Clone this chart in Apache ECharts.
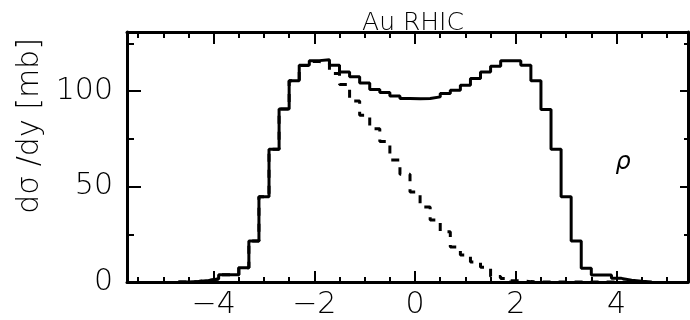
<!DOCTYPE html>
<html><head><meta charset="utf-8">
<script src="https://cdn.jsdelivr.net/npm/echarts@6/dist/echarts.min.js"></script>
<style>html,body{margin:0;padding:0;background:#fff}#c{width:690px;height:320px}</style>
</head><body><div id="c"></div>
<script>
// rapidity bin centres (bin width 0.2)
const binCenters = [-4.6,-4.4,-4.2,-4.0,-3.8,-3.6,-3.4,-3.2,-3.0,-2.8,-2.6,-2.4,-2.2,-2.0,-1.8,-1.6,-1.4,-1.2,-1.0,-0.8,-0.6,-0.4,-0.2,0.0,0.2,0.4,0.6,0.8,1.0,1.2,1.4,1.6,1.8,2.0,2.2,2.4,2.6,2.8,3.0,3.2,3.4,3.6,3.8,4.0,4.2,4.4,4.6];
// total dsigma/dy (solid histogram)
const solidValues = [0,0.3,0.8,1.6,3.8,3.8,7.5,21.5,44.7,69.5,90.6,105.4,113.6,116.0,116.5,113.6,110.1,107.5,104.3,100.9,99.3,97.4,96.2,96.0,96.2,97.0,98.8,100.5,103.1,106.6,110.1,113.1,115.9,115.9,113.6,105.4,90.4,69.5,44.7,21.5,7.2,3.7,3.7,1.9,0.9,0.4,0];
// one-nucleus contribution (dashed histogram)
const dottedValues = [0,0.3,0.8,1.6,3.8,3.8,7.5,21.5,44.7,69.5,90.6,105.4,113.4,115.5,115.0,109.3,103.5,94.8,87.4,80.3,73.6,63.9,56.5,47.1,39.3,32.5,26.3,18.3,14.1,10.5,7.7,2.9,1.8,0.7,0.2,0,0,0,0,0,0,0,0,0,0,0,0];
const xTickValues = [-4,-2,0,2,4];
const xTickLabels = ['\u22124','\u22122','0','2','4'];
const xMinorTicks = [-5.5,-5,-4.5,-3.5,-3,-2.5,-1.5,-1,-0.5,0.5,1,1.5,2.5,3,3.5,4.5,5];
const yTickValues = [0,50,100];
const yTickLabels = ['0','50','100'];
const yMinorTicks = [25,75,125];
const titleText = 'Au RHIC';
const yAxisTitle = 'd\u03c3 /dy [mb]';
const particleLabel = '\u03c1';

const X_MIN = -5.72, X_MAX = 5.42, Y_MIN = 0, Y_MAX = 131;
const BIN_HALF = 0.1;
function toSteps(centers, vals) {
  const pts = centers.map((c, i) => [c - BIN_HALF, vals[i]]);
  pts.push([centers[centers.length - 1] + BIN_HALF, vals[vals.length - 1]]);
  return pts;
}
const FONT = 'DejaVu Sans';
const labelStyle = {color: '#000', fontFamily: FONT, fontSize: 30, fontWeight: 200};

function xAx(pos, ticks, len, showLine, withLabels) {
  return {
    type: 'value', position: pos, min: X_MIN, max: X_MAX,
    axisLine: {show: showLine, onZero: false, lineStyle: {color: '#000', width: 3}},
    axisTick: {show: true, inside: true, length: len, customValues: ticks, lineStyle: {color: '#000', width: 2}},
    axisLabel: withLabels ? Object.assign({show: true, margin: 8, customValues: xTickValues,
      formatter: v => xTickLabels[xTickValues.indexOf(v)]}, labelStyle) : {show: false},
    splitLine: {show: false}
  };
}
function yAx(pos, ticks, len, showLine, withLabels) {
  return {
    type: 'value', position: pos, min: Y_MIN, max: Y_MAX,
    axisLine: {show: showLine, onZero: false, lineStyle: {color: '#000', width: 3}},
    axisTick: {show: true, inside: true, length: len, customValues: ticks, lineStyle: {color: '#000', width: 2}},
    axisLabel: withLabels ? Object.assign({show: true, margin: 14, customValues: yTickValues,
      formatter: v => yTickLabels[yTickValues.indexOf(v)]}, labelStyle) : {show: false},
    splitLine: {show: false}
  };
}

const chart = echarts.init(document.getElementById('c'), null, {renderer: 'canvas'});
chart.setOption({
  animation: false,
  backgroundColor: '#fff',
  grid: {left: 127, right: 2, top: 32, bottom: 38, containLabel: false, outerBoundsMode: 'none'},
  xAxis: [
    xAx('bottom', xTickValues, 11, true, true),
    xAx('bottom', xMinorTicks, 5, false, false),
    xAx('top', xTickValues, 12, true, false),
    xAx('top', xMinorTicks, 6, false, false)
  ],
  yAxis: [
    yAx('left', yTickValues, 14, true, true),
    yAx('left', yMinorTicks, 7, false, false),
    yAx('right', yTickValues, 8, true, false),
    yAx('right', yMinorTicks, 4, false, false)
  ],
  graphic: [
    {type: 'text', x: 413, y: 23, z: -1, style: {text: titleText, fill: '#000', font: '200 25px "DejaVu Sans"', align: 'center', verticalAlign: 'middle'}},
    {type: 'text', x: 30, y: 126, rotation: Math.PI / 2, style: {text: yAxisTitle, fill: '#000', font: '200 30px "DejaVu Sans"', align: 'center', verticalAlign: 'middle'}},
    {type: 'text', x: 623, y: 163, style: {text: particleLabel, fill: '#000', font: 'italic 200 24px "DejaVu Sans"', align: 'center', verticalAlign: 'middle'}}
  ],
  series: [
    {type: 'line', step: 'end', xAxisIndex: 0, yAxisIndex: 0, data: toSteps(binCenters, dottedValues),
      showSymbol: false, symbol: 'none', lineStyle: {color: '#000', width: 3, type: [8, 8], cap: 'butt'}, z: 3},
    {type: 'line', step: 'end', xAxisIndex: 0, yAxisIndex: 0, data: toSteps(binCenters, solidValues),
      showSymbol: false, symbol: 'none', lineStyle: {color: '#000', width: 3}, z: 2}
  ]
});
</script></body></html>
